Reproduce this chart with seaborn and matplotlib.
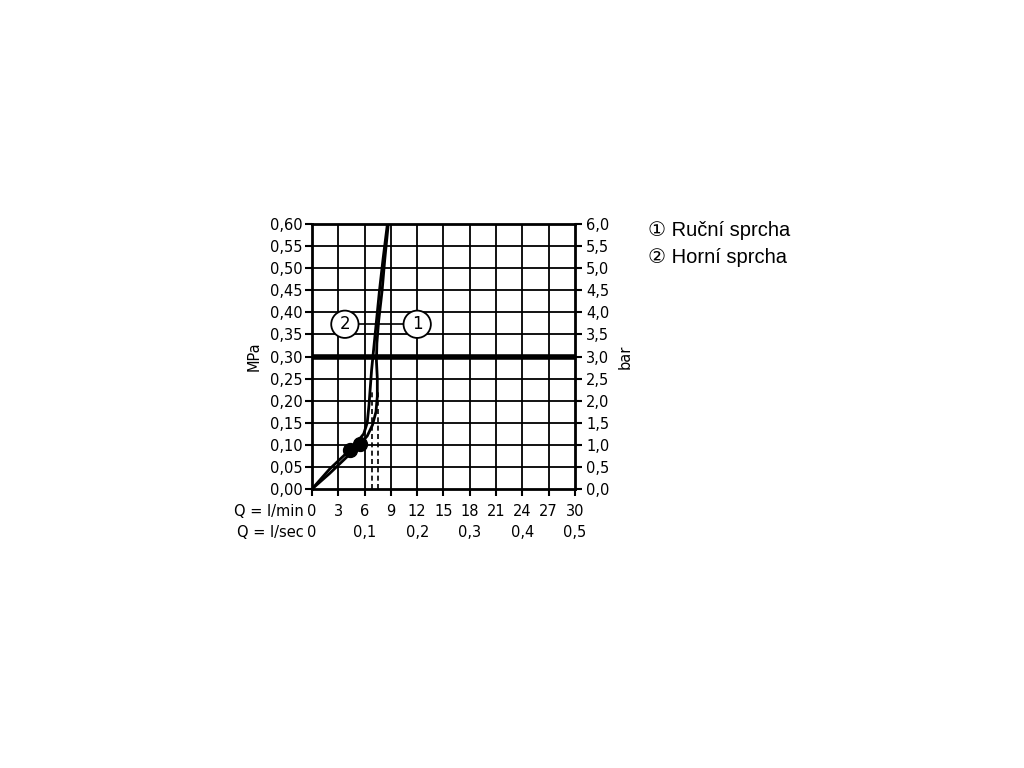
import numpy as np
import pandas as pd
import matplotlib.pyplot as plt
import seaborn as sns

# === Data ===
# curve 1 - Ručni sprcha (hand shower)
q_hand = [0, 2.0, 4.0, 5.5, 6.3, 6.9, 7.3, 7.45, 7.45, 7.35, 7.4, 7.6, 8.0, 8.3, 8.7]
p_hand = [0, 0.035, 0.073, 0.102, 0.12, 0.145, 0.175, 0.21, 0.25, 0.29, 0.33, 0.38, 0.45, 0.52, 0.60]
# curve 2 - Horní sprcha (overhead shower)
q_top = [0, 2.0, 4.3, 5.3, 5.9, 6.3, 6.5, 6.65, 6.8, 7.0, 7.3, 7.7, 8.1, 8.6]
p_top = [0, 0.045, 0.088, 0.11, 0.125, 0.15, 0.19, 0.23, 0.27, 0.31, 0.37, 0.45, 0.52, 0.60]

# operating points (dots) and drop lines
dot_q = [4.3, 5.5]
dot_p = [0.088, 0.102]
drop_q = [6.85, 7.5]
drop_top = 0.22

ref_pressure = 0.30
callout_p = 0.373
callout_labels = ["2", "1"]
callout_q = [3.75, 12.0]

mpa_ticks = np.round(np.arange(0, 0.61, 0.05), 2)
bar_ticks = np.round(np.arange(0, 6.01, 0.5), 1)
lmin_ticks = list(range(0, 31, 3))
lsec_ticks = [0, 0.1, 0.2, 0.3, 0.4, 0.5]
legend_items = ["\u2460 Ruční sprcha", "\u2461 Horní sprcha"]

sns.set_theme(style="white")
plt.rcParams["font.family"] = ["DejaVu Sans"]
plt.rcParams["text.color"] = "black"
plt.rcParams["axes.labelcolor"] = "black"
plt.rcParams["xtick.color"] = "black"
plt.rcParams["ytick.color"] = "black"

fig = plt.figure(figsize=(10.24, 7.68), dpi=100)
ax = fig.add_axes([0.3047, 0.3633, 0.2568, 0.345])

df1 = pd.DataFrame({"Q": q_hand, "P": p_hand})
df2 = pd.DataFrame({"Q": q_top, "P": p_top})

# grid
for q in lmin_ticks[1:-1]:
    ax.axvline(q, color="black", lw=1.3, zorder=1)
for p in mpa_ticks[1:-1]:
    ax.axhline(p, color="black", lw=1.3, zorder=1)
ax.axhline(ref_pressure, color="black", lw=4, zorder=2)

# drop lines
for q in drop_q:
    ax.plot([q, q], [0, drop_top], color="black", lw=1.2, ls=(0, (3, 2)), zorder=2)

# callout connector + circles
ax.plot([callout_q[0], callout_q[1]], [callout_p, callout_p], color="black", lw=1.2, zorder=2)
for lab, q in zip(callout_labels, callout_q):
    ax.text(q, callout_p, lab, ha="center", va="center", fontsize=12, zorder=5,
            bbox=dict(boxstyle="circle,pad=0.28", fc="white", ec="black", lw=1.3))

sns.lineplot(data=df1, x="Q", y="P", ax=ax, color="black", lw=2.0, sort=False,
             estimator=None, zorder=4)
sns.lineplot(data=df2, x="Q", y="P", ax=ax, color="black", lw=2.0, sort=False,
             estimator=None, zorder=4)
ax.scatter(dot_q, dot_p, s=100, color="black", zorder=6)

ax.set_xlim(0, 30)
ax.set_ylim(0, 0.60)
ax.set_xticks(lmin_ticks)
ax.set_xticklabels([str(t) for t in lmin_ticks])
ax.set_yticks(mpa_ticks)
ax.set_yticklabels([f"{t:.2f}".replace(".", ",") for t in mpa_ticks])
ax.tick_params(axis="both", direction="out", length=5, width=1.5, color="black",
               labelsize=10.5, pad=2, bottom=True, left=True)
ax.tick_params(axis="x", pad=6)
ax.set_xlabel("")
ax.set_ylabel("MPa", fontsize=10.5, labelpad=6)
for s in ax.spines.values():
    s.set_color("black")
    s.set_linewidth(2)

# right axis in bar
ax2 = ax.twinx()
ax2.set_ylim(0, 6.0)
ax2.set_yticks(bar_ticks)
ax2.set_yticklabels([f"{t:.1f}".replace(".", ",") for t in bar_ticks])
ax2.tick_params(axis="y", direction="out", length=5, width=1.5, color="black",
                labelsize=10.5, pad=3, right=True)
ax2.set_ylabel("bar", fontsize=10.5, rotation=90, labelpad=6)
ax2.grid(False)
for s in ax2.spines.values():
    s.set_visible(False)

# second row: l/sec
sec = ax.secondary_xaxis(-0.125, functions=(lambda q: q / 60.0, lambda s: s * 60.0))
sec.set_xticks(lsec_ticks)
sec.set_xticklabels(["0"] + [f"{t:.1f}".replace(".", ",") for t in lsec_ticks[1:]])
sec.tick_params(axis="x", length=0, labelsize=10.5, pad=2)
sec.spines["bottom"].set_visible(False)

ax.text(-0.03, -0.085, "Q = l/min", transform=ax.transAxes, ha="right", va="center", fontsize=10.5)
ax.text(-0.03, -0.165, "Q = l/sec", transform=ax.transAxes, ha="right", va="center", fontsize=10.5)

# legend text
for i, item in enumerate(legend_items):
    fig.text(0.633, 0.700 - i * 0.035, item, fontsize=14.5, va="center",
             family=["Liberation Sans", "DejaVu Sans"])

fig.savefig("out.png", dpi=100, facecolor="white")
